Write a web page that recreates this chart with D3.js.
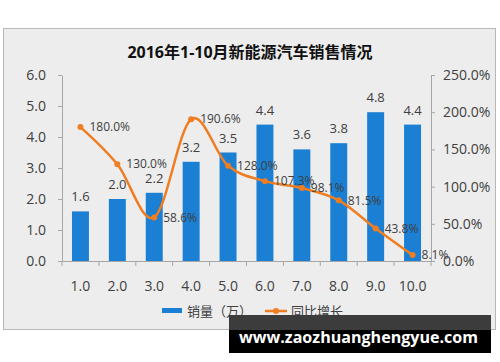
<!DOCTYPE html>
<html>
<head>
<meta charset="utf-8">
<script src="https://cdn.jsdelivr.net/npm/d3@7"></script>
<style>
	body { margin: 0; background: #fff; }
	text { font-family: "Open Sans", "Noto Sans CJK SC", sans-serif; }
</style>
</head>
<body>
<div id="chart"></div>
<script>
let months		= ["1.0", "2.0", "3.0", "4.0", "5.0", "6.0", "7.0", "8.0", "9.0", "10.0"];
let sales		= [1.6, 2.0, 2.2, 3.2, 3.5, 4.4, 3.6, 3.8, 4.8, 4.4];
let growth		= [180.0, 130.0, 58.6, 190.6, 128.0, 107.3, 98.1, 81.5, 43.8, 8.1];
let leftTicks	= [0, 1, 2, 3, 4, 5, 6];
let rightTicks	= [0, 50, 100, 150, 200, 250];

let blue	= "#1b7fd3";
let orange	= "#ef7d22";
let ink		= "#404040";

let svg = d3.select("#chart").append("svg")
	.attr("width", 500)
	.attr("height", 362);

// chart frame
svg.append("rect")
	.attr("x", 3.5).attr("y", 28.5)
	.attr("width", 492).attr("height", 301)
	.attr("fill", "#ededed")
	.attr("stroke", "#b8b8b8");

svg.append("text")
	.attr("x", 250).attr("y", 58)
	.attr("text-anchor", "middle")
	.attr("font-family", "'Noto Sans CJK SC', sans-serif")
	.attr("font-weight", "bold")
	.attr("font-size", 16)
	.attr("fill", "#111")
	.text("2016年1-10月新能源汽车销售情况");

let margin = { top: 75, right: 431, bottom: 261, left: 62 };

let x = d3.scaleBand()
	.domain(months)
	.range([margin.left, margin.right])
	.paddingInner(0.54)
	.paddingOuter(0.27);

let xc = (d) => x(d) + x.bandwidth() / 2;
let step = (margin.right - margin.left) / months.length;

let yL = d3.scaleLinear().domain([0, 6]).range([margin.bottom, margin.top]);
let yR = d3.scaleLinear().domain([0, 250]).range([margin.bottom, margin.top]);

// axes
let gl = svg.append("g")
	.attr("transform", "translate(" + margin.left + ",0)")
	.call(d3.axisLeft(yL).tickValues(leftTicks).tickFormat(d3.format(".1f")).tickSizeInner(4).tickSizeOuter(0).tickPadding(12));

let gr = svg.append("g")
	.attr("transform", "translate(" + margin.right + ",0)")
	.call(d3.axisRight(yR).tickValues(rightTicks).tickFormat((d) => d.toFixed(1) + "%").tickSizeInner(4).tickSizeOuter(0).tickPadding(8));

let gx = svg.append("g")
	.attr("transform", "translate(0," + margin.bottom + ")")
	.call(d3.axisBottom(x).tickSize(0).tickPadding(20));

gx.selectAll(".tick").append("line")
	.attr("x1", -step / 2).attr("x2", -step / 2)
	.attr("y2", 5);
gx.append("line")
	.attr("x1", margin.right).attr("x2", margin.right)
	.attr("y2", 5);

[gl, gr, gx].forEach((g) => {
	g.selectAll("path, line").attr("stroke", "#a6a6a6");
	g.selectAll("text")
		.attr("fill", ink)
		.attr("font-size", 14);
});

// bars
svg.selectAll("rect.bar")
	.data(sales)
	.enter().append("rect")
	.attr("class", "bar")
	.attr("x", (d, i) => x(months[i]))
	.attr("y", (d) => yL(d))
	.attr("width", x.bandwidth())
	.attr("height", (d) => yL(0) - yL(d))
	.attr("fill", blue);

svg.selectAll("text.barlab")
	.data(sales)
	.enter().append("text")
	.attr("class", "barlab")
	.attr("x", (d, i) => xc(months[i]))
	.attr("y", (d) => yL(d) - 10)
	.attr("text-anchor", "middle")
	.attr("font-size", 13)
	.attr("fill", ink)
	.text((d) => d.toFixed(1));

// growth line
let line = d3.line()
	.x((d, i) => xc(months[i]))
	.y((d) => yR(d))
	.curve(d3.curveCardinal.tension(0));

svg.append("path")
	.datum(growth)
	.attr("d", line)
	.attr("fill", "none")
	.attr("stroke", orange)
	.attr("stroke-width", 2.5);

svg.selectAll("circle.pt")
	.data(growth)
	.enter().append("circle")
	.attr("class", "pt")
	.attr("cx", (d, i) => xc(months[i]))
	.attr("cy", (d) => yR(d))
	.attr("r", 3)
	.attr("fill", orange);

svg.selectAll("text.ptlab")
	.data(growth)
	.enter().append("text")
	.attr("class", "ptlab")
	.attr("x", (d, i) => xc(months[i]) + 9)
	.attr("y", (d) => yR(d))
	.attr("dy", "0.35em")
	.attr("font-size", 12)
	.attr("fill", ink)
	.text((d) => d.toFixed(1) + "%");

// legend
let lg = svg.append("g").attr("transform", "translate(0,311)");
lg.append("rect")
	.attr("x", 162).attr("y", -3)
	.attr("width", 20).attr("height", 5)
	.attr("fill", blue);
lg.append("text")
	.attr("x", 187).attr("y", 0).attr("dy", "0.35em")
	.attr("font-family", "'Noto Sans CJK SC', sans-serif")
	.attr("font-size", 13).attr("fill", ink)
	.text("销量（万）");
lg.append("line")
	.attr("x1", 265).attr("x2", 287)
	.attr("stroke", orange).attr("stroke-width", 2.5);
lg.append("circle")
	.attr("cx", 276).attr("r", 3)
	.attr("fill", orange);
lg.append("text")
	.attr("x", 291).attr("y", 0).attr("dy", "0.35em")
	.attr("font-family", "'Noto Sans CJK SC', sans-serif")
	.attr("font-size", 13).attr("fill", ink)
	.text("同比增长");

// site banner
svg.append("rect")
	.attr("x", 229).attr("y", 315)
	.attr("width", 262).attr("height", 18)
	.attr("fill", "#3c3c3c");
svg.append("rect")
	.attr("x", 229).attr("y", 330)
	.attr("width", 262).attr("height", 23)
	.attr("fill", "#000");
svg.append("text")
	.attr("x", 239).attr("y", 343)
	.attr("font-family", "'DejaVu Sans', sans-serif")
	.attr("font-weight", "bold")
	.attr("font-size", 16)
	.attr("textLength", 239)
	.attr("lengthAdjust", "spacingAndGlyphs")
	.attr("fill", "#fff")
	.text("www.zaozhuanghengyue.com");
</script>
</body>
</html>
